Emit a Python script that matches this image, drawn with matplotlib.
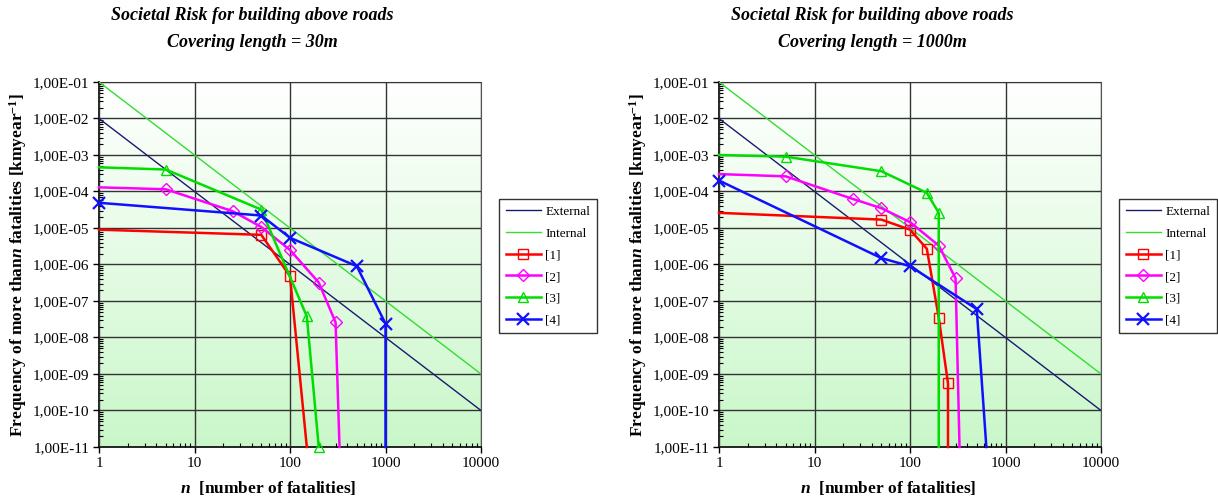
import numpy as np
import matplotlib
matplotlib.use("Agg")
import matplotlib.pyplot as plt
from matplotlib.ticker import LogLocator, FuncFormatter, NullFormatter

plt.rcParams['font.family'] = ['Liberation Serif', 'DejaVu Serif']
plt.rcParams['mathtext.fontset'] = 'custom'
plt.rcParams['mathtext.rm'] = 'Liberation Serif:bold'
plt.rcParams['mathtext.it'] = 'Liberation Serif:bold:italic'
plt.rcParams['mathtext.bf'] = 'Liberation Serif:bold'

# criteria lines (same on both charts)
ext_n = [1, 10000]
ext_f = [1e-2, 1e-10]
int_n = [1, 10000]
int_f = [1e-1, 1e-9]

# covering length = 30m
c30_1_n = [1, 50, 100, 150]
c30_1_f = [9e-6, 6.5e-6, 4.8e-7, 1e-11]
c30_1_mk = [1, 2]
c30_2_n = [1, 5, 25, 50, 100, 200, 300, 330]
c30_2_f = [1.3e-4, 1.15e-4, 2.9e-5, 1.07e-5, 2.5e-6, 3.2e-7, 2.6e-8, 1e-11]
c30_2_mk = [1, 2, 3, 4, 5, 6]
c30_3_n = [1, 5, 50, 150, 200]
c30_3_f = [4.6e-4, 4e-4, 3.2e-5, 3.8e-8, 1e-11]
c30_3_mk = [1, 2, 3, 4]
c30_4_n = [1, 50, 100, 500, 1000, 1000]
c30_4_f = [4.9e-5, 2.2e-5, 5.4e-6, 9e-7, 2.4e-8, 1e-11]
c30_4_mk = [0, 1, 2, 3, 4]

# covering length = 1000m
c1000_1_n = [1, 50, 100, 150, 200, 250, 250]
c1000_1_f = [2.6e-5, 1.7e-5, 9e-6, 2.7e-6, 3.5e-8, 5.5e-10, 1e-11]
c1000_1_mk = [1, 2, 3, 4, 5]
c1000_2_n = [1, 5, 25, 50, 100, 200, 300, 330]
c1000_2_f = [3e-4, 2.6e-4, 6.3e-5, 3.5e-5, 1.45e-5, 3.3e-6, 4.2e-7, 1e-11]
c1000_2_mk = [1, 2, 3, 4, 5, 6]
c1000_3_n = [1, 5, 50, 150, 200, 200]
c1000_3_f = [1e-3, 9e-4, 3.6e-4, 9.2e-5, 2.6e-5, 1e-11]
c1000_3_mk = [1, 2, 3, 4]
c1000_4_n = [1, 50, 100, 500, 630]
c1000_4_f = [2e-4, 1.5e-6, 9e-7, 6e-8, 1e-11]
c1000_4_mk = [0, 1, 2, 3]

titles = ["Societal Risk for building above roads\nCovering length = 30m",
          "Societal Risk for building above roads\nCovering length = 1000m"]

series_style = [
    dict(color='#ff0000', marker='s', label='[1]'),
    dict(color='#ff00ff', marker='D', label='[2]', ms=6.5),
    dict(color='#00dd00', marker='^', label='[3]'),
    dict(color='#1010ff', marker='x', label='[4]', ms=9, mew=1.6),
]

fig = plt.figure(figsize=(12.18, 4.98), dpi=100)

W, H = 1218, 498
panels = [
    (99, [(c30_1_n, c30_1_f, c30_1_mk), (c30_2_n, c30_2_f, c30_2_mk),
          (c30_3_n, c30_3_f, c30_3_mk), (c30_4_n, c30_4_f, c30_4_mk)]),
    (719, [(c1000_1_n, c1000_1_f, c1000_1_mk), (c1000_2_n, c1000_2_f, c1000_2_mk),
           (c1000_3_n, c1000_3_f, c1000_3_mk), (c1000_4_n, c1000_4_f, c1000_4_mk)]),
]

grad = np.linspace(0, 1, 256).reshape(-1, 1)
top = np.array([1.0, 1.0, 1.0])
bot = np.array([0.79, 0.97, 0.79])
img = top[None, None, :] * (1 - grad[:, :, None]) + bot[None, None, :] * grad[:, :, None]

for k, (x0, data) in enumerate(panels):
    ax = fig.add_axes([x0 / W, 1 - 447 / H, 382 / W, 365 / H])
    ax.imshow(img, extent=[0, 1, 0, 1], transform=ax.transAxes, aspect='auto', zorder=0)
    ax.set_xscale('log')
    ax.set_yscale('log')
    ax.set_xlim(1, 10000)
    ax.set_ylim(1e-11, 1e-1)

    ax.plot(ext_n, ext_f, color='#1a1a70', lw=1.0, label='External', zorder=3)
    ax.plot(int_n, int_f, color='#33dd33', lw=1.0, label='Internal', zorder=3)
    for (n, f, mk), st in zip(data, series_style):
        st = dict(st)
        ms = st.pop('ms', 7)
        mew = st.pop('mew', 1.0)
        ax.plot(n, f, lw=1.8, markevery=mk, ms=ms, mew=mew, mfc='none',
                clip_on=False, zorder=4, **st)

    ax.yaxis.set_major_locator(LogLocator(base=10, numticks=20))
    ax.yaxis.set_minor_locator(LogLocator(base=10, subs=np.arange(2, 10), numticks=20))
    ax.xaxis.set_major_locator(LogLocator(base=10, numticks=10))
    ax.xaxis.set_minor_locator(LogLocator(base=10, subs=np.arange(2, 10), numticks=10))
    ax.yaxis.set_major_formatter(FuncFormatter(lambda v, p: f"{v:.2E}".replace('.', ',')))
    ax.xaxis.set_major_formatter(FuncFormatter(lambda v, p: f"{v:.0f}"))
    ax.yaxis.set_minor_formatter(NullFormatter())
    ax.xaxis.set_minor_formatter(NullFormatter())
    ax.tick_params(which='major', direction='out', length=4, width=1, labelsize=11, pad=3)
    ax.tick_params(which='minor', direction='in', length=3, width=0.8)
    ax.tick_params(axis='x', which='major', pad=3)
    ax.grid(True, which='major', color='#333333', lw=1.0, zorder=1)
    ax.set_axisbelow(False)
    for sp in ['top', 'right']:
        ax.spines[sp].set_color('#555555')
    for sp in ['bottom', 'left']:
        ax.spines[sp].set_linewidth(1.2)

    fig.text((18 + 620 * k) / W, 1 - 265 / H,
             r"Frequency of more than$\mathit{n}$ fatalities [kmyear$^{-1}$]",
             rotation=90, ha='center', va='center', fontsize=12.5, fontweight='bold')
    fig.text((268 + 620 * k) / W, 1 - 488 / H, r"$\mathit{n}$  [number of fatalities]",
             ha='center', va='center', fontsize=12.5, fontweight='bold')

    fig.text((252 + 620 * k) / W, 1 - 29 / H, titles[k], ha='center', va='center',
             fontsize=13, fontweight='bold', fontstyle='italic', linespacing=1.75)

    leg = ax.legend(loc='upper left', bbox_to_anchor=((x0 + 400) / W, 1 - 199 / H),
                    bbox_transform=fig.transFigure, fontsize=9.5, frameon=True,
                    fancybox=False, edgecolor='black', borderpad=0.5, borderaxespad=0,
                    handlelength=2.7, labelspacing=0.72, handletextpad=0.3)
    leg.get_frame().set_linewidth(1.0)

fig.savefig('out.png', dpi=100)
